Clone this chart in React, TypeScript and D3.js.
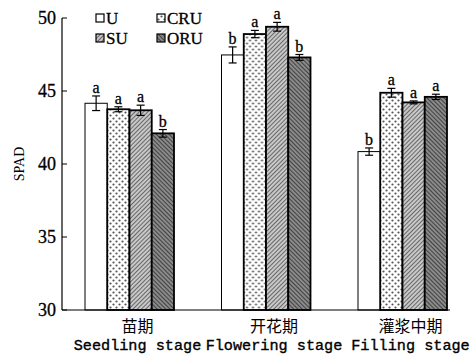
import React from "react";
import * as d3 from "d3";

const stages = ["苗期", "开花期", "灌浆中期"];
const stagesEn = ["Seedling stage", "Flowering stage", "Filling stage"];
const treatments = ["U", "CRU", "SU", "ORU"];
const valU = [44.16, 47.47, 40.85];
const valCRU = [43.75, 48.9, 44.88];
const valSU = [43.68, 49.4, 44.22];
const valORU = [42.1, 47.3, 44.6];
const errU = [0.5, 0.55, 0.25];
const errCRU = [0.17, 0.25, 0.3];
const errSU = [0.35, 0.3, 0.1];
const errORU = [0.26, 0.2, 0.18];
const sigU = ["a", "b", "b"];
const sigCRU = ["a", "a", "a"];
const sigSU = ["a", "a", "a"];
const sigORU = ["b", "b", "a"];
const yTicks = [30, 35, 40, 45, 50];

const series = [
  { name: "U", vals: valU, errs: errU, sig: sigU, fill: "#fff", sw: 1 },
  { name: "CRU", vals: valCRU, errs: errCRU, sig: sigCRU, fill: "url(#pDots)", sw: 1.8 },
  { name: "SU", vals: valSU, errs: errSU, sig: sigSU, fill: "url(#pSU)", sw: 1.8 },
  { name: "ORU", vals: valORU, errs: errORU, sig: sigORU, fill: "url(#pORU)", sw: 1.8 },
];

export default function App() {
  const y = d3.scaleLinear().domain([30, 50]).range([310, 18]);
  const x0 = d3.scaleBand<string>().domain(stages).range([85, 447]).paddingInner(0.348).paddingOuter(0);
  const x1 = d3.scaleBand<string>().domain(treatments).range([0, x0.bandwidth()]).padding(0);
  const serif = "'Liberation Serif', 'Times New Roman', serif";
  const mono = "'Liberation Mono', 'DejaVu Sans Mono', monospace";
  const legendPos = [
    [96, 18],
    [157, 18],
    [96, 38],
    [157, 38],
  ];
  return (
    <svg width={470} height={358} style={{ position: "absolute", left: 0, top: 0, background: "#fff" }}>
      <defs>
        <pattern id="pDots" width={6} height={6} patternUnits="userSpaceOnUse">
          <rect width={6} height={6} fill="#fff" />
          <circle cx={1.5} cy={1.5} r={1.1} fill="#555" />
          <circle cx={4.5} cy={4.5} r={1.1} fill="#555" />
        </pattern>
        <pattern id="pSU" width={3} height={3} patternUnits="userSpaceOnUse" patternTransform="rotate(45)">
          <rect width={3} height={3} fill="#c8c8c8" />
          <line x1={0} y1={0} x2={0} y2={3} stroke="#333" strokeWidth={1.3} />
        </pattern>
        <pattern id="pORU" width={3} height={3} patternUnits="userSpaceOnUse" patternTransform="rotate(-45)">
          <rect width={3} height={3} fill="#8a8a8a" />
          <line x1={0} y1={0} x2={0} y2={3} stroke="#1a1a1a" strokeWidth={1.3} />
        </pattern>
      </defs>

      {stages.map((st, i) => (
        <g key={st} transform={`translate(${x0(st)},0)`}>
          {series.map((s) => {
            const bx = x1(s.name)!;
            const bw = x1.bandwidth();
            const top = y(s.vals[i]);
            const cx = bx + bw / 2;
            const eTop = y(s.vals[i] + s.errs[i]);
            const eBot = y(s.vals[i] - s.errs[i]);
            return (
              <g key={s.name}>
                <rect x={bx} y={top} width={bw} height={y(30) - top} fill={s.fill} stroke="#000" strokeWidth={s.sw} />
                <line x1={cx} x2={cx} y1={eTop} y2={eBot} stroke="#000" strokeWidth={1.2} />
                <line x1={cx - 4} x2={cx + 4} y1={eTop} y2={eTop} stroke="#000" strokeWidth={1.2} />
                <line x1={cx - 4} x2={cx + 4} y1={eBot} y2={eBot} stroke="#000" strokeWidth={1.2} />
                <text x={cx} y={eTop - 3} textAnchor="middle" fontFamily={serif} fontSize={16} fill="#000" stroke="#000" strokeWidth={0.3}>
                  {s.sig[i]}
                </text>
              </g>
            );
          })}
        </g>
      ))}

      <line x1={62} x2={62} y1={y(50)} y2={y(30)} stroke="#000" strokeWidth={1.2} />
      <line x1={62} x2={450} y1={y(30)} y2={y(30)} stroke="#000" strokeWidth={1.2} />
      {yTicks.map((t) => (
        <g key={t}>
          <line x1={62} x2={67} y1={y(t)} y2={y(t)} stroke="#000" strokeWidth={1} />
          <text x={56} y={y(t)} dy="0.35em" textAnchor="end" fontFamily={serif} fontSize={18} fill="#000" stroke="#000" strokeWidth={0.3}>
            {t}
          </text>
        </g>
      ))}
      <text
        transform={`translate(19,${y(40)}) rotate(-90)`}
        textAnchor="middle"
        dy="0.35em"
        fontFamily={serif}
        fontSize={14}
        fill="#000"
      >
        SPAD
      </text>

      {stages.map((st, i) => {
        const cx = x0(st)! + x0.bandwidth() / 2 + 8;
        return (
          <g key={st}>
            <text x={cx} y={332} textAnchor="middle" fontFamily="'Noto Sans CJK SC', sans-serif" fontSize={16} fill="#000">
              {st}
            </text>
            <text x={cx} y={350} textAnchor="middle" fontFamily={mono} fontSize={15.2} fill="#000" stroke="#000" strokeWidth={0.35}>
              {stagesEn[i]}
            </text>
          </g>
        );
      })}

      {series.map((s, i) => (
        <g key={s.name} transform={`translate(${legendPos[i][0]},${legendPos[i][1]})`}>
          <rect x={0} y={-4} width={8} height={8} fill={s.fill} stroke="#000" strokeWidth={1.2} />
          <text x={10} y={0} dy="0.35em" fontFamily={serif} fontSize={17} fill="#000" stroke="#000" strokeWidth={0.3}>
            {s.name}
          </text>
        </g>
      ))}
    </svg>
  );
}
